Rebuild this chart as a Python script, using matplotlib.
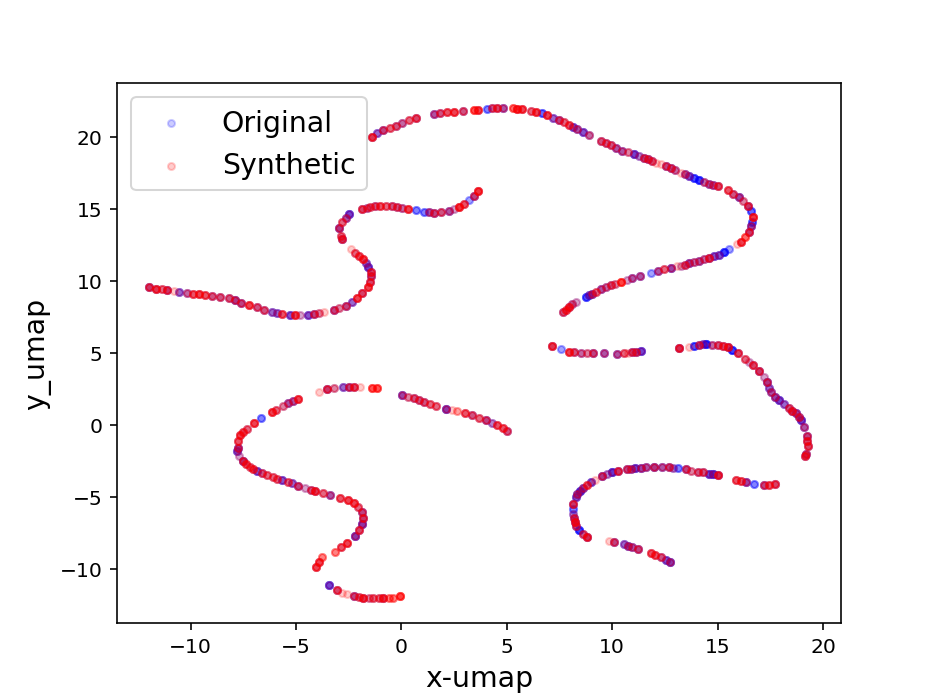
import numpy as np
import matplotlib
matplotlib.use("Agg")
import matplotlib.pyplot as plt

# points along the umap curves (one line per curve piece)
umap_x = [
    -1.38, -1.14, -0.85, -0.55, -0.25, 0.05, 0.35, 0.67,
    1.55, 1.85, 2.15, 2.5, 2.9,
    3.45, 3.65, 4.05, 4.3, 4.55, 4.8,
    5.3, 5.5, 5.73,
    6.13, 6.4, 6.65, 6.92, 7.2, 7.46, 7.7, 7.94, 8.15, 8.35, 8.6, 8.89,
    9.45, 9.7, 9.93, 10.2, 10.48, 10.75, 11.02, 11.25, 11.5, 11.7, 11.9, 12.1, 12.3, 12.55, 12.78, 13.0, 13.25, 13.45, 13.65, 13.9, 14.1, 14.35, 14.6, 14.8, 15.0,
    15.47, 15.75, 16.0, 16.2, 16.42, 16.58, 16.66, 16.62, 16.58, 16.5,
    16.3, 16.1, 15.9,
    15.53, 15.3, 15.06, 14.85, 14.6, 14.35, 14.1, 13.9, 13.65, 13.45, 13.25, 13.05,
    12.78, 12.45, 12.15, 11.83,
    11.3, 10.96, 10.7, 10.4, 10.15, 9.93, 9.7, 9.45, 9.25, 9.06, 8.9, 8.74,
    8.27, 8.1, 7.94, 7.8, 7.68,
    3.61, 3.45, 3.2, 2.98, 2.74, 2.5, 2.27, 1.9, 1.55, 1.3, 1.08, 0.68,
    0.29, 0.05, -0.19, -0.45, -0.75, -1.0, -1.25, -1.47, -1.65, -1.85,
    -2.48, -2.65, -2.8, -2.96,
    -2.88, -2.8,
    -2.37, -2.18, -2.0, -1.8, -1.68, -1.58, -1.45, -1.42, -1.5, -1.6, -1.85, -2.09, -2.35, -2.65, -2.95, -3.2,
    -3.67, -3.9, -4.15, -4.45, -4.8, -5.05, -5.27, -5.65, -5.9, -6.13, -6.5, -6.85, -7.23, -7.63, -7.9, -8.2, -8.6, -8.98, -9.3, -9.6, -9.9, -10.17, -10.56, -10.8, -11.1, -11.35, -11.62, -11.97,
    7.16, 7.55, 7.95, 8.2, 8.5, 8.8, 9.1, 9.6,
    10.24, 10.55, 10.75, 10.96, 11.15, 11.35,
    13.17, 13.65, 13.9, 14.1, 14.3, 14.47, 14.75, 15.0, 15.25, 15.47, 15.7, 15.95, 16.3, 16.5, 16.66, 16.96, 17.2, 17.34, 17.45, 17.53, 17.7, 17.92, 18.15, 18.4, 18.55, 18.72, 18.85, 18.95, 19.08,
    19.22, 19.22, 19.27, 19.2, 19.15,
    0.03, 0.3, 0.58, 0.82, 1.05, 1.35, 1.62, 2.12, 2.4, 2.65, 3.0, 3.36, 3.7, 4.0, 4.3, 4.55, 4.8, 5.0,
    -3.93, -3.53, -3.2, -2.75, -2.5, -2.27, -1.95,
    -1.4, -1.15,
    -4.92, -5.15, -5.36, -5.6, -5.95, -6.14,
    -6.65, -7.0, -7.33, -7.5, -7.65, -7.74,
    -7.8, -7.75, -7.68, -7.52, -7.35, -7.2, -7.05, -6.85, -6.6, -6.38, -6.1, -5.9, -5.67, -5.4, -5.2, -4.9, -4.56, -4.3, -4.09, -3.7, -3.37, -2.9, -2.55, -2.27, -2.05, -1.87, -1.82, -1.87, -2.0, -2.18,
    -2.58, -2.85, -3.13,
    -3.77, -3.9, -4.05,
    -3.42, -3.05, -2.8, -2.58, -2.27, -2.0, -1.8, -1.55, -1.33, -1.05, -0.85, -0.6, -0.38, -0.05,
    17.72, 17.45, 17.2, 16.72, 16.34, 16.1, 15.87,
    15.04, 14.8, 14.6, 14.3, 14.05, 13.75, 13.5, 13.1, 12.9, 12.7, 12.35, 12.0, 11.6, 11.35, 11.1, 10.9, 10.7, 10.27, 10.0, 9.75, 9.53, 9.2, 9.0, 8.82, 8.62, 8.47, 8.35, 8.27, 8.13,
    8.13, 8.16, 8.18, 8.22, 8.3, 8.42, 8.6, 8.82,
    9.85, 10.08, 10.55, 10.75, 10.95, 11.2,
    11.83, 12.05, 12.3, 12.55, 12.75,
]
umap_y = [
    20.0, 20.25, 20.45, 20.6, 20.75, 20.95, 21.15, 21.3,
    21.55, 21.62, 21.68, 21.72, 21.76,
    21.85, 21.88, 21.93, 21.96, 21.98, 21.98,
    21.98, 21.95, 21.9,
    21.8, 21.72, 21.62, 21.5, 21.32, 21.15, 20.98, 20.8, 20.65, 20.5, 20.32, 20.1,
    19.7, 19.55, 19.4, 19.2, 19.0, 18.9, 18.8, 18.68, 18.55, 18.42, 18.3, 18.2, 18.1, 17.95, 17.8, 17.65, 17.5, 17.38, 17.25, 17.12, 17.0, 16.85, 16.7, 16.62, 16.55,
    16.3, 16.05, 15.8, 15.55, 15.2, 14.85, 14.45, 14.1, 13.8, 13.4,
    13.0, 12.7, 12.55,
    12.2, 12.0, 11.8, 11.72, 11.6, 11.5, 11.4, 11.32, 11.2, 11.12, 11.05, 11.0,
    10.9, 10.78, 10.65, 10.5,
    10.3, 10.2, 10.05, 9.9, 9.8, 9.7, 9.55, 9.4, 9.25, 9.1, 9.0, 8.9,
    8.5, 8.35, 8.2, 8.0, 7.85,
    16.2, 15.9, 15.6, 15.35, 15.1, 14.95, 14.85, 14.75, 14.7, 14.75, 14.8, 14.9,
    15.0, 15.05, 15.1, 15.15, 15.2, 15.2, 15.15, 15.1, 15.05, 15.0,
    14.6, 14.35, 14.1, 13.65,
    13.1, 12.9,
    12.2, 11.9, 11.7, 11.5, 11.2, 10.95, 10.6, 10.3, 9.9, 9.55, 9.15, 8.8, 8.5, 8.25, 8.1, 8.0,
    7.85, 7.78, 7.7, 7.65, 7.6, 7.6, 7.6, 7.7, 7.78, 7.85, 8.0, 8.15, 8.3, 8.45, 8.65, 8.8, 8.9, 8.95, 9.0, 9.05, 9.1, 9.15, 9.2, 9.28, 9.35, 9.4, 9.45, 9.55,
    5.44, 5.25, 5.07, 5.03, 5.0, 5.0, 4.98, 4.95,
    4.9, 4.98, 5.0, 5.03, 5.06, 5.1,
    5.35, 5.42, 5.5, 5.55, 5.58, 5.6, 5.57, 5.53, 5.48, 5.42, 5.22, 5.0, 4.6, 4.35, 4.15, 3.7, 3.3, 2.95, 2.55, 2.25, 1.95, 1.7, 1.42, 1.15, 0.98, 0.8, 0.55, 0.3, -0.17,
    -0.8, -1.1, -1.45, -2.0, -2.2,
    2.08, 1.95, 1.85, 1.7, 1.55, 1.42, 1.3, 1.1, 1.02, 0.95, 0.82, 0.65, 0.48, 0.35, 0.15, 0.0, -0.2, -0.4,
    2.3, 2.5, 2.53, 2.6, 2.62, 2.62, 2.6,
    2.55, 2.55,
    1.8, 1.65, 1.5, 1.3, 1.0, 0.9,
    0.45, 0.1, -0.3, -0.5, -0.7, -1.1,
    -1.85, -1.6, -2.2, -2.5, -2.7, -2.9, -3.05, -3.2, -3.35, -3.5, -3.6, -3.75, -3.85, -3.98, -4.05, -4.25, -4.4, -4.52, -4.6, -4.75, -4.9, -5.05, -5.25, -5.45, -5.7, -6.05, -6.5, -6.9, -7.3, -7.7,
    -8.2, -8.5, -8.8,
    -9.2, -9.5, -9.85,
    -11.15, -11.5, -11.65, -11.75, -11.85, -11.95, -12.0, -12.05, -12.05, -12.03, -12.02, -12.0, -12.0, -11.9,
    -4.1, -4.15, -4.2, -4.1, -4.0, -3.9, -3.8,
    -3.5, -3.45, -3.4, -3.3, -3.25, -3.18, -3.1, -3.0, -2.97, -2.95, -2.92, -2.9, -2.95, -2.97, -3.0, -3.05, -3.1, -3.2, -3.3, -3.42, -3.55, -3.8, -3.95, -4.15, -4.4, -4.6, -4.8, -5.0, -5.5,
    -5.85, -6.2, -6.5, -6.75, -7.05, -7.3, -7.55, -7.8,
    -8.05, -8.1, -8.3, -8.4, -8.48, -8.6,
    -8.9, -9.03, -9.2, -9.4, -9.55,
]
# how many samples of each kind sit on top of one another at each point
original_n = [
    2, 3, 3, 1, 2, 2, 1, 2,
    3, 2, 1, 1, 2,
    0, 1, 3, 2, 2, 3,
    0, 1, 1,
    1, 1, 4, 1, 3, 3, 1, 1, 4, 3, 4, 2,
    2, 2, 2, 3, 3, 1, 5, 2, 3, 3, 2, 0, 0, 3, 3, 2, 0, 3, 4, 5, 6, 2, 3, 3, 2,
    1, 2, 4, 1, 3, 4, 1, 4, 4, 3,
    0, 1, 0,
    2, 6, 4, 4, 3, 2, 3, 2, 4, 2, 1, 0,
    4, 1, 3, 2,
    3, 3, 1, 0, 1, 2, 2, 3, 1, 4, 4, 5,
    1, 2, 2, 1, 2,
    1, 3, 2, 1, 1, 1, 3, 2, 3, 3, 3, 3,
    1, 2, 2, 2, 1, 1, 2, 1, 2, 2,
    5, 3, 1, 4,
    1, 3,
    0, 1, 1, 1, 3, 5, 2, 3, 2, 1, 2, 1, 3, 3, 1, 3,
    0, 1, 3, 4, 1, 1, 4, 1, 3, 3, 2, 2, 1, 3, 4, 2, 2, 2, 1, 1, 1, 2, 3, 0, 3, 1, 2, 3,
    2, 2, 1, 2, 2, 1, 3, 3,
    3, 1, 0, 3, 3, 5,
    3, 0, 5, 3, 3, 7, 2, 2, 2, 3, 6, 2, 1, 1, 2, 3, 1, 4, 3, 3, 4, 5, 3, 2, 3, 4, 3, 5, 3,
    3, 2, 2, 3, 2,
    4, 1, 2, 2, 2, 1, 1, 5, 0, 0, 1, 2, 1, 3, 2, 1, 1, 2,
    0, 3, 1, 3, 3, 2, 0,
    0, 0,
    1, 3, 3, 1, 1, 1,
    3, 1, 1, 1, 1, 1,
    4, 4, 1, 4, 1, 1, 1, 4, 2, 1, 1, 1, 4, 1, 3, 3, 1, 2, 2, 1, 3, 1, 1, 1, 1, 3, 3, 5, 2, 5,
    1, 1, 0,
    0, 1, 1,
    5, 2, 0, 0, 3, 1, 2, 1, 1, 1, 2, 0, 0, 0,
    2, 1, 3, 3, 4, 1, 1,
    3, 6, 5, 2, 2, 1, 3, 3, 2, 3, 3, 4, 3, 4, 5, 3, 3, 3, 6, 2, 4, 0, 4, 1, 4, 6, 4, 4, 3,
    3, 2, 3, 3, 3, 6, 2, 3,
    0, 3, 3, 4, 3, 3,
    1, 1, 2, 4, 5,
]
synthetic_n = [
    5, 1, 3, 3, 3, 2, 3, 4,
    2, 3, 4, 5, 3,
    5, 5, 0, 3, 4, 2,
    4, 6, 5,
    3, 5, 0, 5, 1, 3, 3, 4, 1, 2, 1, 2,
    3, 3, 3, 2, 2, 2, 1, 1, 3, 3, 3, 1, 1, 3, 3, 2, 1, 2, 1, 0, 0, 2, 2, 2, 4,
    4, 3, 2, 2, 4, 0, 6, 0, 2, 4,
    4, 5, 1,
    0, 0, 1, 1, 4, 2, 2, 2, 2, 3, 1, 1,
    2, 3, 2, 0,
    2, 2, 1, 6, 2, 3, 2, 2, 3, 2, 1, 0,
    1, 2, 5, 4, 3,
    6, 3, 0, 4, 6, 1, 2, 3, 3, 2, 0, 0,
    5, 2, 3, 3, 3, 4, 3, 3, 2, 4,
    1, 2, 3, 3,
    3, 4,
    1, 3, 4, 5, 1, 1, 4, 3, 4, 5, 4, 5, 1, 3, 2, 3,
    1, 2, 3, 1, 1, 5, 1, 4, 1, 1, 3, 3, 5, 3, 3, 3, 3, 3, 4, 5, 4, 2, 1, 1, 4, 3, 5, 4,
    5, 0, 5, 3, 2, 2, 3, 2,
    2, 3, 1, 3, 3, 1,
    5, 1, 0, 3, 1, 0, 2, 3, 4, 5, 0, 4, 3, 1, 4, 4, 1, 3, 1, 2, 2, 1, 1, 3, 4, 2, 3, 1, 2,
    3, 4, 4, 3, 4,
    2, 2, 3, 3, 3, 3, 3, 2, 1, 2, 4, 3, 3, 3, 1, 4, 4, 3,
    1, 4, 2, 1, 3, 4, 1,
    5, 5,
    5, 2, 2, 2, 3, 5,
    0, 5, 3, 4, 5, 4,
    1, 3, 1, 4, 4, 3, 4, 1, 3, 3, 3, 3, 1, 3, 1, 3, 1, 3, 5, 3, 2, 4, 5, 5, 3, 3, 4, 2, 4, 2,
    5, 4, 3,
    3, 5, 5,
    1, 4, 1, 1, 3, 3, 5, 2, 3, 3, 5, 3, 3, 6,
    4, 4, 3, 0, 2, 4, 4,
    5, 1, 1, 3, 3, 2, 3, 0, 1, 3, 2, 3, 2, 2, 1, 2, 3, 4, 1, 1, 3, 1, 1, 4, 2, 1, 2, 1, 4,
    0, 1, 3, 5, 3, 0, 3, 5,
    1, 3, 1, 2, 2, 3,
    4, 4, 3, 1, 2,
]

umap_x = np.array(umap_x)
umap_y = np.array(umap_y)

fig = plt.figure(figsize=(6.4, 4.8), dpi=146)
ax = fig.add_subplot(111)

ax.scatter(np.repeat(umap_x, original_n), np.repeat(umap_y, original_n),
           c="blue", s=12, alpha=0.2, label="Original")
ax.scatter(np.repeat(umap_x, synthetic_n), np.repeat(umap_y, synthetic_n),
           c="red", s=12, alpha=0.2, label="Synthetic")

ax.set_xlim(-13.5, 20.85)
ax.set_ylim(-13.75, 23.7)
ax.set_xlabel("x-umap", fontsize=14)
ax.set_ylabel("y_umap", fontsize=14)
ax.legend(fontsize=14, loc="upper left")

fig.savefig("out.png", dpi=146)
